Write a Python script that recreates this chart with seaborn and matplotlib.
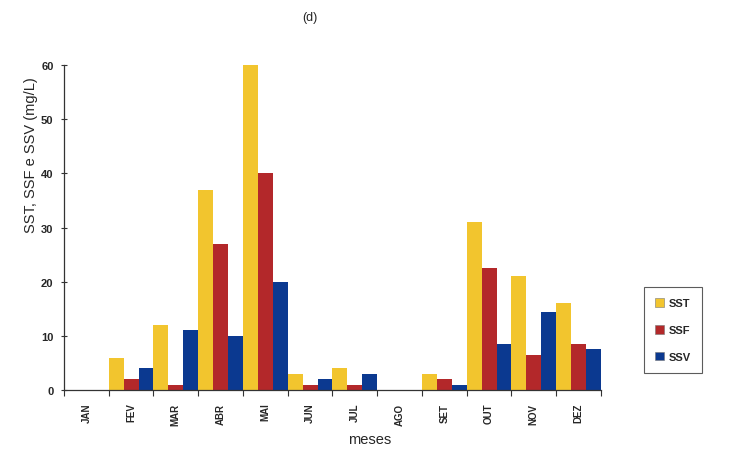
import numpy as np
import pandas as pd
import matplotlib
matplotlib.use("Agg")
import matplotlib.pyplot as plt
import seaborn as sns
from matplotlib.patches import Patch

months = ["JAN", "FEV", "MAR", "ABR", "MAI", "JUN", "JUL", "AGO", "SET", "OUT", "NOV", "DEZ"]
sst = [0, 6, 12, 37, 60, 3, 4, 0, 3, 31, 21, 16]
ssf = [0, 2, 1, 27, 40, 1, 1, 0, 2, 22.5, 6.5, 8.5]
ssv = [0, 4, 11, 10, 20, 2, 3, 0, 1, 8.5, 14.5, 7.5]
series = ["SST", "SSF", "SSV"]
colors = ["#F2C52E", "#B3282A", "#0B3990"]

df = pd.DataFrame({
    "mes": months * 3,
    "serie": ["SST"] * 12 + ["SSF"] * 12 + ["SSV"] * 12,
    "valor": sst + ssf + ssv,
})

sns.set_style("ticks")
plt.rcParams["font.family"] = ["Liberation Sans", "DejaVu Sans"]

fig = plt.figure(figsize=(7.32, 4.56), dpi=100)
ax = fig.add_axes([0.0874, 0.1425, 0.7336, 0.7125])

sns.barplot(data=df, x="mes", y="valor", hue="serie", order=months,
            hue_order=series, palette=colors, width=1.0, gap=0,
            ax=ax, legend=False, saturation=1, errorbar=None, linewidth=0)

ax.set_xlim(-0.5, 11.5)
ax.set_ylim(0, 60)
ax.set_yticks(np.arange(0, 61, 10))
ax.set_yticklabels([str(v) for v in range(0, 61, 10)], fontsize=8, fontweight="bold")
ax.set_xticks(np.arange(12))
ax.set_xticklabels(months, rotation=90, fontsize=7, fontweight="bold")
ax.set_xticks(np.arange(-0.5, 12, 1), minor=True)
ax.tick_params(axis="x", which="major", length=0, pad=9, bottom=True)
ax.tick_params(axis="x", which="minor", length=4, width=0.8, direction="out",
               color="#333333", bottom=True)
ax.tick_params(axis="y", which="major", length=5, width=0.8, direction="inout",
               color="#333333", pad=5, left=True)

for s in ["top", "right"]:
    ax.spines[s].set_visible(False)
for s in ["left", "bottom"]:
    ax.spines[s].set_color("#333333")
    ax.spines[s].set_linewidth(0.9)

ax.set_ylabel("SST, SSF e SSV (mg/L)", fontsize=10.5)
ax.yaxis.set_label_coords(-0.048, 0.726)
ax.set_xlabel("")
fig.text(0.505, 0.035, "meses", fontsize=10.5, ha="center", va="center")

fig.text(0.424, 0.96, "(d)", fontsize=9, ha="center", va="center")

handles = [Patch(facecolor=c, edgecolor="#777777", linewidth=0.4, label=l) for c, l in zip(colors, series)]
leg = fig.legend(handles=handles, loc="upper left", bbox_to_anchor=(0.872, 0.38),
                 frameon=True, fancybox=False, edgecolor="#333333",
                 prop={"weight": "bold", "size": 8}, handlelength=0.8, handleheight=0.8,
                 labelspacing=1.5, borderpad=1.0, handletextpad=0.4)
leg.get_frame().set_linewidth(0.8)

fig.savefig("out.png", dpi=100, facecolor="white")
